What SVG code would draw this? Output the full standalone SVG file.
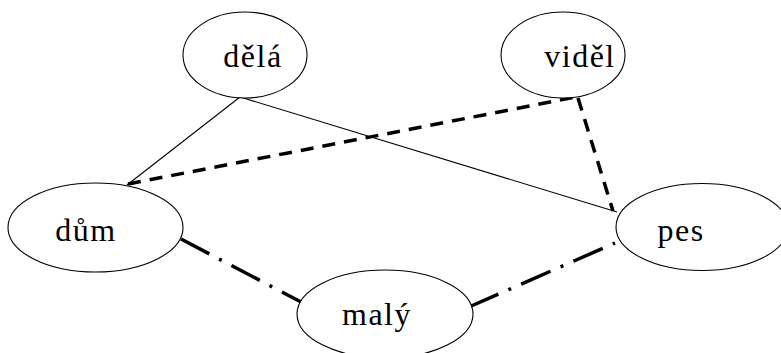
<svg xmlns="http://www.w3.org/2000/svg" width="781" height="353" viewBox="0 0 781 353">
  <style>
    .node ellipse { fill: #ffffff; stroke: #000000; stroke-width: 1.1; }
    .node text { font-family: "Liberation Serif", "Times New Roman", serif; font-size: 32px; fill: #000000; text-anchor: middle; letter-spacing: 1.5px; }
    .thin { stroke: #000000; stroke-width: 1.1; fill: none; }
    .dashed { stroke: #000000; stroke-width: 3.5; fill: none; stroke-dasharray: 13 9; }
    .dashdot { stroke: #000000; stroke-width: 3.5; fill: none; stroke-dasharray: 32 11 3 11; }
  </style>
  <rect width="781" height="353" fill="#ffffff"/>

  <!-- edges, drawn beneath the nodes -->
  <g id="connectors">
    <line class="thin" x1="240" y1="97" x2="127" y2="185"/>
    <line class="thin" x1="240" y1="97" x2="617" y2="212"/>
    <line class="dashed" x1="128" y1="184" x2="576" y2="97"/>
    <line class="dashed" x1="578" y1="98" x2="613" y2="211"/>
    <line class="dashdot" x1="181" y1="239" x2="301" y2="302"/>
    <line class="dashdot" x1="469" y1="307" x2="615" y2="243"/>
  </g>

  <g id="node-dela" class="node">
    <ellipse cx="245" cy="55" rx="62" ry="43"/>
    <text x="253" y="67">dělá</text>
  </g>
  <g id="node-videl" class="node">
    <ellipse cx="563" cy="55" rx="62" ry="43"/>
    <text x="580" y="67">viděl</text>
  </g>
  <g id="node-dum" class="node">
    <ellipse cx="95.5" cy="227.5" rx="87.5" ry="44.5"/>
    <text x="86" y="241">dům</text>
  </g>
  <g id="node-maly" class="node">
    <ellipse cx="385" cy="314" rx="88" ry="44"/>
    <text x="377" y="325">malý</text>
  </g>
  <g id="node-pes" class="node">
    <ellipse cx="702" cy="227" rx="86" ry="43.5"/>
    <text x="681" y="241">pes</text>
  </g>
</svg>
